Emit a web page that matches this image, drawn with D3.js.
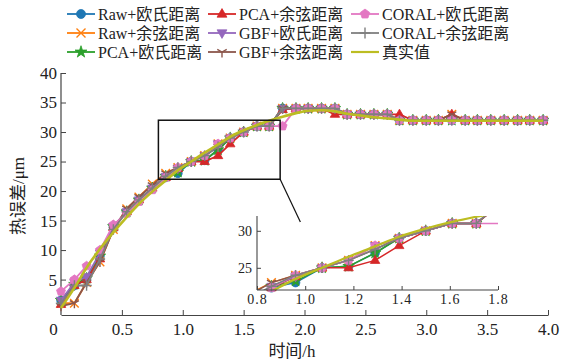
<!DOCTYPE html>
<html>
<head>
<meta charset="utf-8">
<script src="https://cdn.jsdelivr.net/npm/d3@7"></script>
<style>
  body { margin: 0; background: #fff; }
  text { font-family: "Liberation Serif", "Noto Sans CJK SC", serif; fill: #222; }
</style>
</head>
<body>
<div class="box"></div>
<script>
// sampling times (h)
const times = [0, 0.11, 0.21, 0.32, 0.43, 0.54, 0.64, 0.75, 0.86, 0.96, 1.07, 1.18, 1.29, 1.39, 1.50, 1.61, 1.71,
  1.82, 1.93, 2.03, 2.14, 2.25, 2.35, 2.46, 2.57, 2.68, 2.78, 2.89, 3.00, 3.10, 3.21, 3.32, 3.42, 3.53, 3.64, 3.75, 3.85, 3.96];

// thermal error (um) for each method
const rawEuc   = [1.5, 4, 5, 9, 14, 16.5, 18.5, 20.5, 22.3, 23, 25, 25.2, 27, 29, 30, 31, 31,
  34, 34, 34, 34, 34, 33, 33, 33, 33, 32, 32, 32, 32, 32, 32, 32, 32, 32, 32, 32, 32];
const rawCos   = [1, 1, 4.5, 8, 13.5, 17, 19, 21.2, 23, 24, 25, 26, 28, 29, 30, 31, 31,
  34, 34, 34, 34, 34, 33, 33, 33, 33, 32, 32, 32, 32, 33, 32, 32, 32, 32, 32, 32, 32];
const pcaEuc   = [1.5, 4.2, 5.2, 9, 14, 16.5, 18.5, 20.5, 22.5, 23.2, 25, 25.2, 27, 29, 30, 31, 31,
  34, 34, 34, 34, 34, 33, 33, 33, 33, 32, 32, 32, 32, 32, 32, 32, 32, 32, 32, 32, 32];
const pcaCos   = [0.8, 4, 5, 8.5, 13.8, 16.5, 18.5, 20.5, 22.3, 23.8, 25, 25, 26, 28, 30, 31, 31,
  33.8, 34, 34, 34, 33, 33, 33, 33, 33, 33, 32, 32, 32, 33, 32, 32, 32, 32, 32, 32, 32];
const gbfEuc   = [1.5, 4.5, 5.5, 9.5, 14, 16.5, 18.5, 20.5, 22.5, 23.8, 25, 26, 28, 29, 30, 31, 31,
  34, 34, 34, 34, 34, 33, 33, 33, 33, 32, 32, 32, 32, 32, 32, 32, 32, 32, 32, 32, 32];
const gbfCos   = [0.5, 1, 4.5, 8, 13.5, 17, 19, 21, 23, 24, 25, 26, 27.5, 29, 30, 31, 31,
  34, 34, 34, 34, 34, 33, 33, 33, 33, 32, 32, 32, 32, 33, 32, 32, 32, 32, 32, 32, 32];
const coralEuc = [3, 5, 7.3, 10, 14.3, 16.2, 18.2, 20.2, 22.3, 24, 25, 26, 28, 29, 30, 31, 31,
  31, 34, 34, 34, 34, 33, 33, 33, 33, 32, 32, 32, 32, 32, 32, 32, 32, 32, 32, 32, 32];
const coralCos = [1, 4, 4, 8.5, 13.5, 16.5, 18.5, 20.5, 22.5, 24, 25, 26, 27.5, 29, 30, 31, 31,
  34, 34, 34, 34, 34, 33, 33, 33, 33, 32, 32, 32, 32, 32, 32, 32, 32, 32, 32, 32, 32];
const truth    = [0.2, 3.6, 7.0, 10.2, 13.0, 15.6, 17.8, 19.9, 21.8, 23.5, 25.0, 26.5, 27.9, 29.2, 30.3, 31.2, 31.9,
  32.6, 33.2, 33.6, 33.7, 33.5, 33.1, 32.8, 32.5, 32.3, 32.1, 31.9, 31.9, 31.9, 31.9, 31.9, 31.9, 31.9, 31.9, 31.9, 31.9, 31.9];

const names  = ["Raw+欧氏距离", "Raw+余弦距离", "PCA+欧氏距离", "PCA+余弦距离", "GBF+欧氏距离",
  "GBF+余弦距离", "CORAL+欧氏距离", "CORAL+余弦距离", "真实值"];
const colors = ["#1f77b4", "#ff7f0e", "#2ca02c", "#d62728", "#9467bd", "#8c564b", "#e377c2", "#7f7f7f", "#bcbd22"];
const shapes = ["circle", "x", "star", "triUp", "triDown", "tri", "pentagon", "plus", "none"];
const xTicks = [0, 0.5, 1.0, 1.5, 2.0, 2.5, 3.0, 3.5, 4.0];
const yTicks = [5, 10, 15, 20, 25, 30, 35, 40];
const insetXTicks = [0.8, 1.0, 1.2, 1.4, 1.6, 1.8];
const insetYTicks = [25, 30];

const allValues = [rawEuc, rawCos, pcaEuc, pcaCos, gbfEuc, gbfCos, coralEuc, coralCos, truth];
const series = names.map((n, k) => ({
  name: n, color: colors[k], shape: shapes[k],
  pts: times.map((t, i) => ({ t: t, v: allValues[k][i] }))
}));

const w = 576, h = 360;
const svg = d3.select(".box").append("svg").attr("width", w).attr("height", h);

const x = d3.scaleLinear().domain([0, 4]).range([61, 548]);
const y = d3.scaleLinear().domain([-1, 40]).range([315, 73]);

// marker paths
function markerPath(shape, r) {
  if (shape === "circle") return d3.symbol(d3.symbolCircle, Math.PI * r * r)();
  if (shape === "star") return d3.symbol(d3.symbolStar, r * r * 2.2)();
  if (shape === "x") return `M${-r},${-r}L${r},${r}M${-r},${r}L${r},${-r}`;
  if (shape === "plus") return `M${-r * 1.2},0L${r * 1.2},0M0,${-r * 1.2}L0,${r * 1.2}`;
  if (shape === "triUp") return `M0,${-r * 1.2}L${r * 1.1},${r * 0.7}L${-r * 1.1},${r * 0.7}Z`;
  if (shape === "triDown") return `M0,${r * 1.2}L${r * 1.1},${-r * 0.7}L${-r * 1.1},${-r * 0.7}Z`;
  if (shape === "tri") return `M0,0L0,${r * 1.2}M0,0L${-r * 1.05},${-r * 0.6}M0,0L${r * 1.05},${-r * 0.6}`;
  if (shape === "pentagon") {
    const p = d3.range(5).map(k => {
      const a = -Math.PI / 2 + k * 2 * Math.PI / 5;
      return [r * 1.1 * Math.cos(a), r * 1.1 * Math.sin(a)];
    });
    return "M" + p.join("L") + "Z";
  }
  return "";
}
const strokeOnly = s => s === "x" || s === "plus" || s === "tri";

function drawSeries(g, xs, ys, lw, r, keep) {
  series.forEach(s => {
    const isTruth = s.shape === "none";
    const line = d3.line().x(d => xs(d.t)).y(d => ys(d.v))
      .curve(isTruth ? d3.curveMonotoneX : d3.curveLinear);
    g.append("path").datum(s.pts)
      .attr("d", line)
      .attr("fill", "none")
      .attr("stroke", s.color)
      .attr("stroke-width", isTruth ? lw + 0.8 : lw)
      .attr("stroke-linejoin", "round")
      .attr("clip-path", g.attr("data-clip"));
    if (isTruth) return;
    g.selectAll(null).data(s.pts.filter(keep)).enter()
      .append("path")
      .attr("transform", d => `translate(${xs(d.t)},${ys(d.v)})`)
      .attr("d", markerPath(s.shape, r))
      .attr("fill", strokeOnly(s.shape) ? "none" : s.color)
      .attr("stroke", s.color)
      .attr("stroke-width", strokeOnly(s.shape) ? 1.4 : 0.8);
  });
}

// main axes
const xAxis = d3.axisBottom(x).tickValues(xTicks).tickSizeInner(-5).tickSizeOuter(0).tickPadding(8)
  .tickFormat(d => d === 0 ? "0" : d.toFixed(1));
const yAxis = d3.axisLeft(y).tickValues(yTicks).tickSizeInner(-5).tickSizeOuter(0).tickPadding(4)
  .tickFormat(d3.format("d"));

const gx = svg.append("g").attr("transform", "translate(0,315)").call(xAxis);
gx.selectAll("text").filter(d => d === 0).attr("dx", -8);
const gy = svg.append("g").attr("transform", "translate(61,0)").call(yAxis);
[gx, gy].forEach(g => {
  g.select(".domain").attr("stroke", "#444").attr("stroke-width", 1.2);
  g.selectAll(".tick line").attr("stroke", "#444");
  g.selectAll("text").style("font-family", "Liberation Serif").style("font-size", "17px").attr("fill", "#222");
});
gx.selectAll(".tick").filter(d => d === 0).select("line").remove();
gy.select(".domain").attr("d", "M0,73V315");

// axis titles
svg.append("text").attr("x", 292).attr("y", 357).attr("text-anchor", "middle")
  .style("font-size", "17px").text("时间/h");
svg.append("text").attr("transform", "translate(24,196) rotate(-90)").attr("text-anchor", "middle")
  .style("font-size", "17px").text("热误差/μm");

// main data
const main = svg.append("g");
drawSeries(main, x, y, 1.8, 4.3, () => true);

// zoom box
svg.append("rect")
  .attr("x", x(0.8)).attr("y", y(32))
  .attr("width", x(1.8) - x(0.8)).attr("height", y(22) - y(32))
  .attr("fill", "none").attr("stroke", "#111").attr("stroke-width", 1.5);

// inset
const xi = d3.scaleLinear().domain([0.8, 1.8]).range([257, 498]);
const yi = d3.scaleLinear().domain([22, 32]).range([290, 216]);

svg.append("line")
  .attr("x1", x(1.8)).attr("y1", y(22))
  .attr("x2", xi(0.98)).attr("y2", yi(31.2))
  .attr("stroke", "#111").attr("stroke-width", 1.2);

svg.append("clipPath").attr("id", "insetClip").append("rect")
  .attr("x", 257).attr("y", 216).attr("width", 241).attr("height", 74);

const inset = svg.append("g").attr("data-clip", "url(#insetClip)");
drawSeries(inset, xi, yi, 1.5, 4.3, d => d.t >= 0.8 && d.t <= 1.8 && d.v >= 22 && d.v <= 32);

const gxi = svg.append("g").attr("transform", "translate(0,290)")
  .call(d3.axisBottom(xi).tickValues(insetXTicks).tickSizeInner(-4).tickSizeOuter(0).tickPadding(4)
    .tickFormat(d3.format(".1f")));
const gyi = svg.append("g").attr("transform", "translate(257,0)")
  .call(d3.axisLeft(yi).tickValues(insetYTicks).tickSizeInner(-4).tickSizeOuter(0).tickPadding(5)
    .tickFormat(d3.format("d")));
[gxi, gyi].forEach(g => {
  g.select(".domain").attr("stroke", "#444").attr("stroke-width", 1.1);
  g.selectAll(".tick line").attr("stroke", "#444");
  g.selectAll("text").style("font-family", "Liberation Serif").style("font-size", "14px").attr("fill", "#333");
});
gxi.selectAll("text").style("letter-spacing", "1px");
gyi.select(".domain").attr("d", "M0,216V290");
gxi.select(".domain").attr("d", "M257,0H498");

// legend: 3 rows, filled column by column
const colX = [67, 208, 351];
const rowY = [14, 33, 52];
const legend = svg.append("g").attr("id", "legend");
series.forEach((s, k) => {
  const lx = colX[Math.floor(k / 3)], ly = rowY[k % 3];
  const item = legend.append("g");
  item.append("line").attr("x1", lx).attr("x2", lx + 28).attr("y1", ly).attr("y2", ly)
    .attr("stroke", s.color).attr("stroke-width", s.shape === "none" ? 2.2 : 1.8);
  if (s.shape !== "none") {
    item.append("path").attr("transform", `translate(${lx + 14},${ly})`)
      .attr("d", markerPath(s.shape, 4.5))
      .attr("fill", strokeOnly(s.shape) ? "none" : s.color)
      .attr("stroke", s.color).attr("stroke-width", strokeOnly(s.shape) ? 1.4 : 0.8);
  }
  item.append("text").attr("x", lx + 31).attr("y", ly + 6)
    .style("font-size", "16px").text(s.name);
});
</script>
</body>
</html>
